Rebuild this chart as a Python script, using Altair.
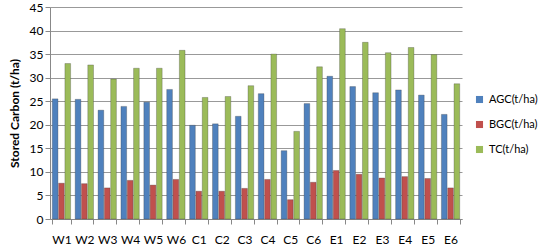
import altair as alt
import pandas as pd

sites = ["W1","W2","W3","W4","W5","W6","C1","C2","C3","C4","C5","C6","E1","E2","E3","E4","E5","E6"]
agc = [25.5,25.4,23.1,23.9,24.8,27.5,19.9,20.2,21.8,26.6,14.5,24.5,30.3,28.1,26.8,27.4,26.3,22.2]
bgc = [7.6,7.5,6.6,8.2,7.2,8.4,5.9,5.9,6.5,8.4,4.1,7.8,10.3,9.5,8.7,9.0,8.6,6.6]
tc = [33.0,32.7,29.7,32.0,32.0,35.8,25.8,26.0,28.3,35.0,18.6,32.3,40.4,37.5,35.3,36.4,34.9,28.7]
series = ["AGC(t/ha)", "BGC(t/ha)", "TC(t/ha)"]
colors = ["#4F81BD", "#C0504D", "#9BBB59"]

rows = []
for i, s in enumerate(sites):
    for name, vals in zip(series, [agc, bgc, tc]):
        rows.append({"site": s, "series": name, "value": vals[i]})
df = pd.DataFrame(rows)

font = "Lato"

chart = alt.Chart(df).mark_bar(stroke="#3a3a3a", strokeWidth=0.3).encode(
    x=alt.X("site:N", sort=sites, title=None,
            scale=alt.Scale(paddingInner=0.2, paddingOuter=0.1),
            axis=alt.Axis(labelAngle=0, labelFontSize=12, labelFont=font, labelColor="#000",
                          domainColor="#888", tickColor="#888", tickBand="extent",
                          labelPadding=10, grid=False)),
    xOffset=alt.XOffset("series:N", sort=series, scale=alt.Scale(paddingInner=0.1)),
    y=alt.Y("value:Q", title="Stored Carbon (t/ha)",
            scale=alt.Scale(domain=[0, 45], nice=False),
            axis=alt.Axis(values=list(range(0, 46, 5)), labelFontSize=12, labelFont=font,
                          labelColor="#000", titleFont=font, titleFontSize=12,
                          titleFontWeight="bold", titleColor="#000", titlePadding=8,
                          gridColor="#999", domainColor="#888", tickColor="#888")),
    color=alt.Color("series:N", sort=series,
                    scale=alt.Scale(domain=series, range=colors),
                    legend=alt.Legend(title=None, orient="none", legendX=424, legendY=87,
                                      labelFont=font, labelFontSize=11, labelColor="#000",
                                      symbolType="square", symbolSize=50, rowPadding=13,
                                      labelOffset=4, symbolStrokeWidth=0)),
).properties(
    width=412, height=212,
    padding={"left": 50, "top": 7, "right": 78, "bottom": 30},
    autosize=alt.AutoSizeParams(type="none"),
).configure_view(stroke=None)

chart.save("out.html", embed_options={"renderer": "svg", "actions": False})
